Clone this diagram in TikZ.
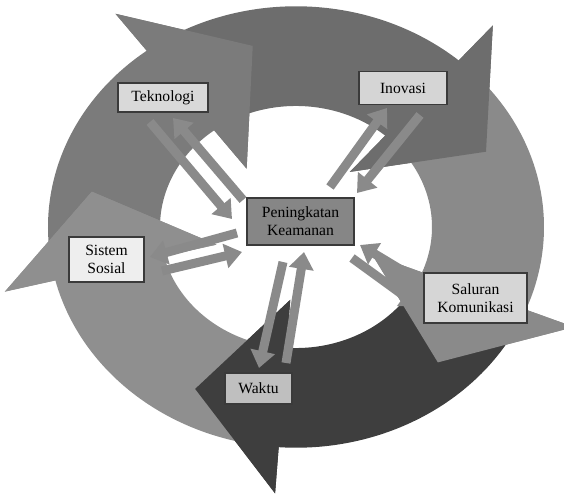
\documentclass[tikz,border=0pt]{standalone}
\usepackage{fontspec}
\setmainfont{Liberation Serif}
\usetikzlibrary{arrows.meta}
\definecolor{tekno}{HTML}{7B7B7B}
\definecolor{inov}{HTML}{6D6D6D}
\definecolor{salur}{HTML}{8A8A8A}
\definecolor{waktu}{HTML}{3E3E3E}
\definecolor{sosial}{HTML}{8F8F8F}
\definecolor{link}{HTML}{8A8A8A}
\definecolor{frame}{HTML}{3A3A3A}
\tikzset{
  lbl/.style={draw=frame,line width=0.6pt,align=center,inner sep=1pt,
    font=\fontsize{7.8pt}{9pt}\selectfont},
  conn/.style={draw=link,line width=4.5pt,-{Triangle[width=12pt,length=8.5pt]}}
}

\begin{document}
\begin{tikzpicture}[x=0.5pt,y=-0.5pt]
\useasboundingbox (0,0) rectangle (564,498);
\clip (0,0) rectangle (564,498);
% ring of five arrows
\begin{scope}[shift={(296,227)},yscale=-0.89]
\foreach \b/\t/\c in {127/188/tekno,49/121/inov,-22/43/salur,-94/-28/waktu,194/260/sosial}
  \fill[\c] (\t:248) arc[start angle=\t,end angle=\b,radius=248]
    -- (\b:300) -- ({\b-25}:208) -- (\b:82) -- (\b:136)
    arc[start angle=\b,end angle=\t,radius=136] -- cycle;
\foreach \b/\c in {127/tekno,49/inov,-22/salur,-94/waktu,194/sosial}
  \fill[\c] (\b:300) -- ({\b-25}:208) -- (\b:82) -- cycle;
\end{scope}

% labels
\node[lbl,fill=gray!30,minimum width=45pt,minimum height=14.5pt] (tek) at (163,97.5) {Teknologi};
\node[lbl,fill=gray!33,minimum width=44pt,minimum height=16.5pt] (inov) at (403,88) {Inovasi};
\node[lbl,fill=gray!95,minimum width=53.5pt,minimum height=23.5pt] (pusat) at (300.5,221.5) {Peningkatan\\Keamanan};
\node[lbl,fill=gray!13,minimum width=37.5pt,minimum height=22.5pt] (sos) at (106.5,259.5) {Sistem\\Sosial};
\node[lbl,fill=gray!32,minimum width=51.5pt,minimum height=25pt] (sal) at (475.5,298) {Saluran\\Komunikasi};
\node[lbl,fill=gray!50,minimum width=33.5pt,minimum height=15.5pt] (wak) at (258.5,388.5) {Waktu};

% link ends
\coordinate (tekA) at (150,122);  \coordinate (tekB) at (232,219);
\coordinate (tekC) at (243,200);  \coordinate (tekD) at (173,118);
\coordinate (inovA) at (330,187); \coordinate (inovB) at (387,108);
\coordinate (inovC) at (420,115); \coordinate (inovD) at (357,193);
\coordinate (salA) at (352,258);  \coordinate (salB) at (418,306);
\coordinate (salC) at (418,280);  \coordinate (salD) at (360,245);
\coordinate (wakA) at (283,262);  \coordinate (wakB) at (259,368);
\coordinate (wakC) at (286,363);  \coordinate (wakD) at (304,252);
\coordinate (sosA) at (237,233);  \coordinate (sosB) at (150,257);
\coordinate (sosC) at (162,271);  \coordinate (sosD) at (242,252);

\foreach \n in {tek,inov,sal,wak,sos}{
  \draw[conn] (\n A) -- (\n B);
  \draw[conn] (\n C) -- (\n D);
}
\end{tikzpicture}
\end{document}
